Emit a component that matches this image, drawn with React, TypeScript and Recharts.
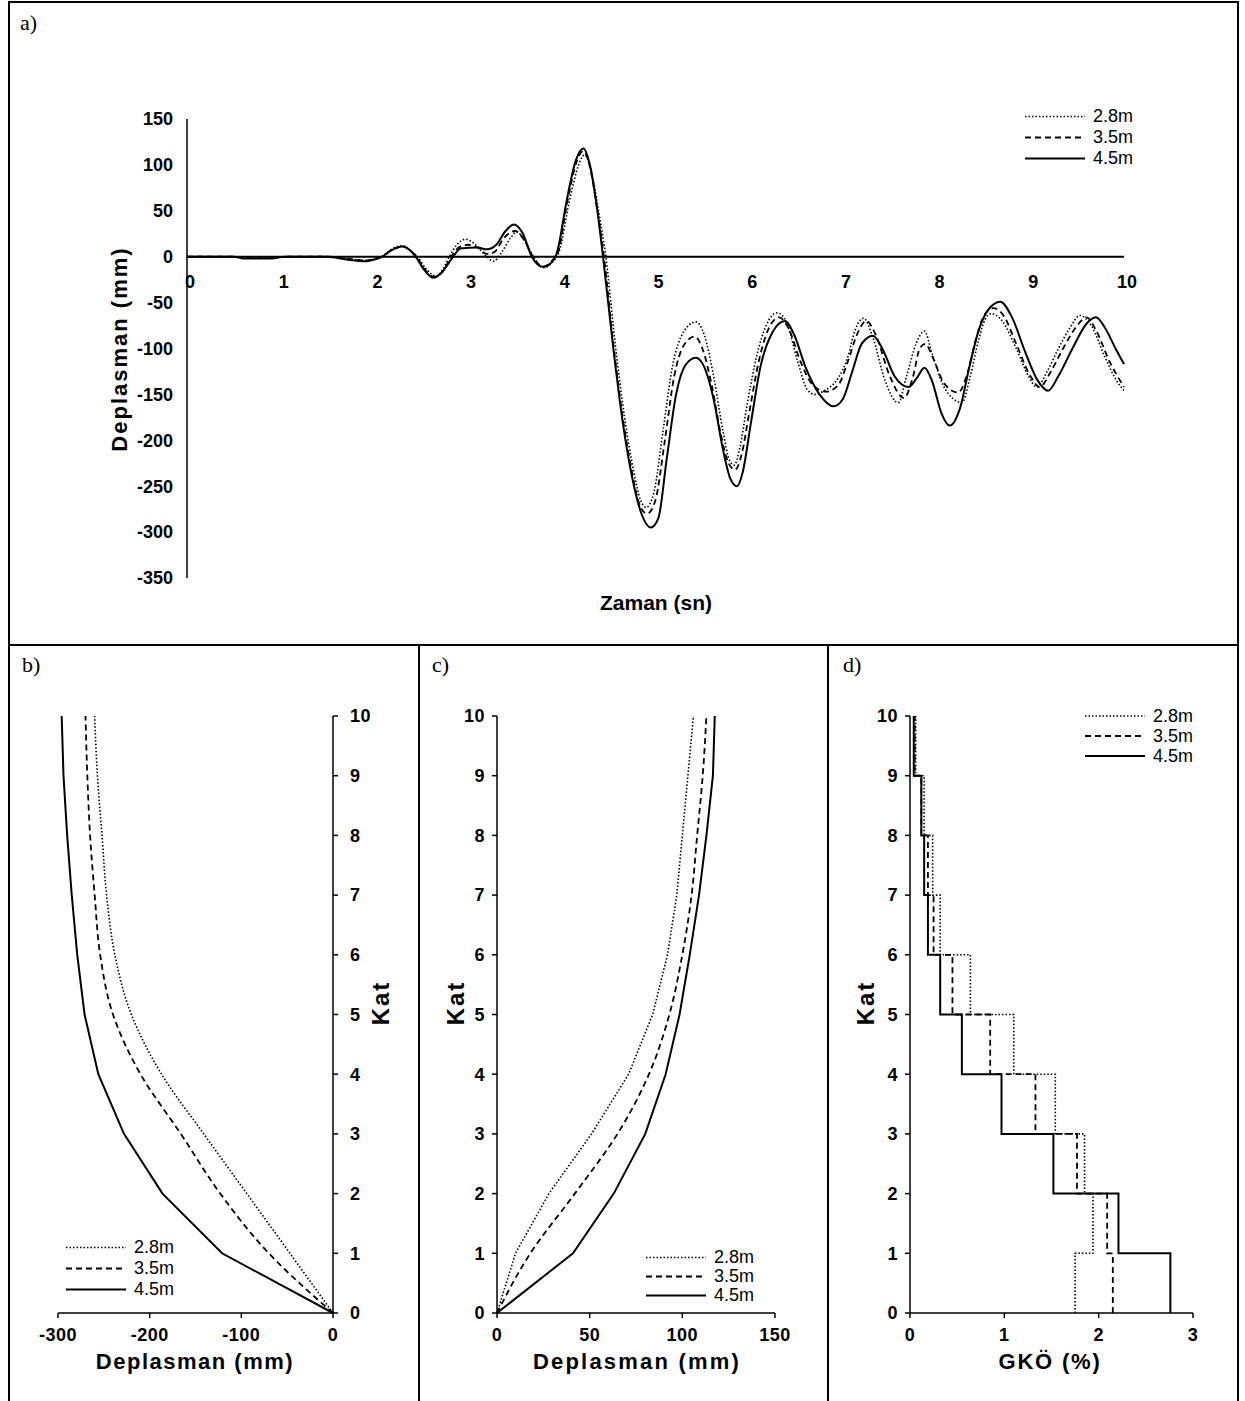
import { LineChart, Line, XAxis, YAxis, ReferenceLine, ReferenceDot } from 'recharts';

const FONT = '"Liberation Sans", Arial, Helvetica, sans-serif';
const SERIF = '"Liberation Serif", "Times New Roman", serif';

const NAMES = ['2.8m', '3.5m', '4.5m'];
const DASH = ['1.5 2', '6 4', ''];
const WIDTH = [1.6, 1.8, 2];

// a) zaman - deplasman, [t (sn), deplasman (mm)]
const A_28: [number, number][] = [
  [0, 0], [0.6, 0], [1.5, 0], [1.7, -2], [1.9, -4], [2.0, -3], [2.08, 0], [2.18, 8], [2.3, 12],
  [2.38, 7], [2.46, 0], [2.55, -13], [2.66, -21], [2.74, -12], [2.8, 0], [2.88, 13], [2.97, 19],
  [3.07, 14], [3.18, 2], [3.27, -5], [3.36, 5], [3.45, 20], [3.52, 27], [3.6, 18], [3.7, 0],
  [3.8, -12], [3.9, -6], [3.97, 5], [4.08, 60], [4.18, 100], [4.24, 111], [4.31, 95], [4.4, 45],
  [4.47, 0], [4.57, -95], [4.67, -175], [4.77, -235], [4.84, -265], [4.9, -273], [4.98, -258],
  [5.08, -190], [5.18, -120], [5.3, -82], [5.43, -71], [5.52, -85], [5.62, -130], [5.72, -190],
  [5.79, -222], [5.84, -227], [5.9, -208], [5.98, -160], [6.08, -108], [6.18, -75], [6.3, -61],
  [6.4, -72], [6.52, -115], [6.62, -145], [6.7, -150], [6.8, -146], [6.95, -132], [7.05, -110],
  [7.13, -80], [7.22, -67], [7.32, -88], [7.45, -135], [7.59, -159], [7.68, -130], [7.78, -95],
  [7.87, -81], [7.95, -105], [8.07, -140], [8.18, -155], [8.27, -159], [8.36, -130], [8.45, -90],
  [8.52, -68], [8.58, -62], [8.7, -70], [8.85, -100], [8.98, -130], [9.07, -142], [9.18, -125],
  [9.3, -100], [9.42, -78], [9.53, -64], [9.65, -75], [9.8, -110], [9.92, -135], [10, -146],
];

const A_35: [number, number][] = [
  [0, 0], [0.5, 0], [0.6, -1], [0.9, -1], [1.05, 0], [1.5, 0], [1.7, -2], [1.9, -4], [2.0, -3],
  [2.08, 0], [2.18, 7], [2.3, 11], [2.38, 7], [2.45, 0], [2.53, -13], [2.64, -22], [2.73, -16],
  [2.82, 0], [2.9, 10], [3.0, 13], [3.1, 10], [3.2, 3], [3.28, 5], [3.38, 20], [3.5, 28], [3.6, 18],
  [3.69, 0], [3.8, -11], [3.9, -4], [3.96, 5], [4.06, 60], [4.16, 104], [4.23, 115], [4.3, 98],
  [4.38, 50], [4.45, 0], [4.55, -95], [4.65, -175], [4.75, -235], [4.83, -270], [4.91, -280],
  [5.0, -265], [5.1, -200], [5.2, -130], [5.3, -97], [5.42, -87], [5.5, -100], [5.6, -140],
  [5.7, -195], [5.78, -225], [5.85, -232], [5.92, -215], [6.0, -170], [6.1, -115], [6.2, -80],
  [6.32, -66], [6.42, -78], [6.55, -115], [6.68, -140], [6.82, -147], [6.95, -140], [7.05, -115],
  [7.15, -85], [7.25, -70], [7.35, -85], [7.5, -130], [7.65, -154], [7.75, -130], [7.82, -100],
  [7.88, -95], [7.96, -110], [8.08, -138], [8.23, -148], [8.32, -130], [8.42, -90], [8.52, -62],
  [8.61, -56], [8.72, -65], [8.85, -95], [9.0, -130], [9.1, -142], [9.22, -125], [9.35, -100],
  [9.5, -75], [9.6, -66], [9.7, -80], [9.85, -115], [10, -142],
];

const A_45: [number, number][] = [
  [0, 0], [0.5, 0], [0.6, -2], [0.9, -2], [1.05, 0], [1.5, 0], [1.7, -3], [1.9, -5], [2.0, -3],
  [2.08, 0], [2.18, 7], [2.3, 11], [2.38, 7], [2.44, 0], [2.53, -14], [2.63, -23], [2.72, -17],
  [2.84, 0], [2.92, 9], [3.1, 10], [3.2, 8], [3.3, 13], [3.4, 28], [3.49, 35], [3.58, 26],
  [3.68, 0], [3.8, -11], [3.9, -5], [3.95, 5], [4.05, 60], [4.15, 105], [4.23, 118], [4.3, 100],
  [4.38, 50], [4.44, 0], [4.55, -100], [4.65, -180], [4.75, -240], [4.85, -280], [4.95, -295],
  [5.03, -285], [5.12, -220], [5.22, -150], [5.32, -118], [5.43, -110], [5.52, -120], [5.62, -155],
  [5.72, -210], [5.8, -242], [5.87, -250], [5.93, -235], [6.02, -180], [6.12, -120], [6.25, -82],
  [6.38, -70], [6.48, -85], [6.6, -120], [6.75, -150], [6.9, -163], [7.0, -155], [7.1, -125],
  [7.2, -95], [7.32, -86], [7.42, -100], [7.55, -130], [7.7, -142], [7.79, -132], [7.87, -121],
  [7.95, -135], [8.05, -170], [8.14, -184], [8.25, -165], [8.35, -120], [8.45, -80], [8.55, -58],
  [8.68, -49], [8.8, -65], [8.95, -105], [9.08, -135], [9.19, -146], [9.3, -130], [9.45, -100],
  [9.6, -73], [9.7, -66], [9.8, -78], [9.9, -98], [10, -117],
];

const A_X_TICKS = [0, 1, 2, 3, 4, 5, 6, 7, 8, 9, 10];
const A_Y_TICKS = [150, 100, 50, 0, -50, -100, -150, -200, -250, -300, -350];

// b), c) kat deplasmanlari (mm)
const KAT = [0, 1, 2, 3, 4, 5, 6, 7, 8, 9, 10];
const B_28 = [0, -47, -94, -141, -187, -220, -238, -247, -252, -257, -260];
const B_35 = [0, -70, -123, -166, -210, -240, -254, -260, -265, -268, -270];
const B_45 = [0, -121, -186, -228, -256, -271, -279, -285, -290, -294, -296];
const B_X_TICKS = [-300, -200, -100, 0];

const C_28 = [0, 10, 28, 51, 71, 84, 92, 97, 100, 103, 106];
const C_35 = [0, 18, 42, 65, 82, 93, 100, 105, 108, 111, 113];
const C_45 = [0, 41, 63, 80, 91, 98.5, 104, 109, 113, 116.5, 117.5];
const C_X_TICKS = [0, 50, 100, 150];

// d) GKÖ (%) per storey 1..10
const D_28 = [1.75, 1.94, 1.85, 1.54, 1.1, 0.64, 0.32, 0.24, 0.15, 0.06];
const D_35 = [2.15, 2.09, 1.77, 1.33, 0.85, 0.45, 0.25, 0.19, 0.12, 0.05];
const D_45 = [2.76, 2.21, 1.52, 0.97, 0.55, 0.32, 0.19, 0.15, 0.12, 0.04];
const D_X_TICKS = [0, 1, 2, 3];

const tickA = { fill: '#000', fontSize: 18, fontWeight: 700, fontFamily: FONT };
const tickB = { fill: '#000', fontSize: 18, fontWeight: 700, fontFamily: FONT, letterSpacing: 0.5 };
const axisLine = { stroke: '#000', strokeWidth: 1.5 };
const tickLine = { stroke: '#000', strokeWidth: 1.5 };

const toPts = (arr: [number, number][]) => arr.map(([t, v]) => ({ t, v }));

const profile = (s28: number[], s35: number[], s45: number[]) =>
  KAT.map((k, i) => ({ kat: k, s28: s28[i], s35: s35[i], s45: s45[i] }));

// step data: row k holds the drift of storey k+1, top row repeats the last storey
const drift = (s28: number[], s35: number[], s45: number[]) =>
  KAT.map((k) => {
    const i = Math.min(k, 9);
    return { kat: k, s28: s28[i], s35: s35[i], s45: s45[i] };
  });

function LegendBox({ left, top, rowH = 21, lineW = 60, gap = 8 }: any) {
  return (
    <div style={{ position: 'absolute', left, top, fontFamily: FONT, fontSize: 18, lineHeight: `${rowH}px` }}>
      {NAMES.map((n, i) => (
        <div key={n} style={{ display: 'flex', alignItems: 'center', height: rowH }}>
          <svg width={lineW} height={rowH}>
            <line x1={0} x2={lineW} y1={rowH / 2} y2={rowH / 2} stroke="#000" strokeWidth={WIDTH[i]} strokeDasharray={DASH[i] || undefined} />
          </svg>
          <span style={{ marginLeft: gap }}>{n}</span>
        </div>
      ))}
    </div>
  );
}

function Title({ x, y, text, rotate = false, size = 22, spacing = 0 }: any) {
  return (
    <div
      style={{
        position: 'absolute',
        left: x,
        top: y,
        transform: `translate(-50%, -50%)${rotate ? ' rotate(-90deg)' : ''}`,
        fontFamily: FONT,
        fontWeight: 700,
        fontSize: size,
        letterSpacing: spacing,
        whiteSpace: 'nowrap',
      }}
    >
      {text}
    </div>
  );
}

function Letter({ x, y, text }: any) {
  return (
    <div style={{ position: 'absolute', left: x, top: y, fontFamily: SERIF, fontSize: 22 }}>{text}</div>
  );
}

// one curve type per series
function lines(types: string[]) {
  const keys = ['s28', 's35', 's45'];
  return keys.map((k, i) => (
    <Line
      key={k}
      dataKey={k}
      type={types[i] as any}
      stroke="#000"
      strokeWidth={WIDTH[i]}
      strokeDasharray={DASH[i] || undefined}
      dot={false}
      isAnimationActive={false}
    />
  ));
}

export default function App() {
  const series = [A_28, A_35, A_45];
  return (
    <div style={{ position: 'absolute', left: 0, top: 0, width: 1245, height: 1401, background: '#fff' }}>
      {/* frame */}
      <div style={{ position: 'absolute', left: 8, top: 1, width: 1231, height: 645, border: '2px solid #000', boxSizing: 'border-box' }} />
      {[8, 418, 827, 1237].map((x) => (
        <div key={x} style={{ position: 'absolute', left: x, top: 645, width: 2, height: 756, background: '#000' }} />
      ))}

      {/* a) */}
      <div style={{ position: 'absolute', left: 0, top: 0 }}>
        <LineChart width={1245} height={645} margin={{ top: 119, right: 121, bottom: 67, left: 127 }}>
          <XAxis type="number" dataKey="t" domain={[0, 10]} ticks={A_X_TICKS} hide allowDuplicatedCategory={false} />
          <YAxis
            type="number"
            domain={[-350, 150]}
            ticks={A_Y_TICKS}
            interval={0}
            width={60}
            axisLine={axisLine}
            tickLine={false}
            tickSize={6}
            tickMargin={8}
            tick={tickA}
          />
          <ReferenceLine y={0} stroke="#000" strokeWidth={2} />
          {A_X_TICKS.map((k) => (
            <ReferenceDot
              key={k}
              x={k}
              y={0}
              r={1}
              fill="none"
              stroke="none"
              label={{ value: String(k), position: 'bottom', offset: 18, ...tickA, dx: 3 }}
            />
          ))}
          {series.map((s, i) => (
            <Line
              key={NAMES[i]}
              data={toPts(s)}
              dataKey="v"
              type="monotone"
              stroke="#000"
              strokeWidth={WIDTH[i]}
              strokeDasharray={DASH[i] || undefined}
              dot={false}
              isAnimationActive={false}
            />
          ))}
        </LineChart>
      </div>
      <Letter x={20} y={10} text="a)" />
      <LegendBox left={1025} top={106} />
      <Title x={120} y={349} text="Deplasman (mm)" rotate size={22} spacing={2} />
      <Title x={656} y={603} text="Zaman (sn)" size={21} />

      {/* b) */}
      <div style={{ position: 'absolute', left: 8, top: 645 }}>
        <LineChart layout="vertical" width={410} height={756} data={profile(B_28, B_35, B_45)} margin={{ top: 71, right: 40, bottom: 58, left: 50 }}>
          <XAxis type="number" domain={[-300, 0]} ticks={B_X_TICKS} interval={0} axisLine={axisLine} tickLine={tickLine} tickSize={5} tickMargin={10} tick={tickB} />
          <YAxis type="number" dataKey="kat" orientation="right" reversed domain={[0, 10]} ticks={KAT} interval={0} width={45} axisLine={axisLine} tickLine={tickLine} tickSize={5} tickMargin={12} tick={{ ...tickB, textAnchor: 'start' }} />
          {lines(['monotone', 'monotone', 'linear'])}
        </LineChart>
      </div>
      <Letter x={22} y={652} text="b)" />
      <LegendBox left={66} top={1237} />
      <Title x={195} y={1362} text="Deplasman (mm)" spacing={1.5} />
      <Title x={381} y={1003} text="Kat" rotate size={24} spacing={2} />

      {/* c) */}
      <div style={{ position: 'absolute', left: 418, top: 645 }}>
        <LineChart layout="vertical" width={409} height={756} data={profile(C_28, C_35, C_45)} margin={{ top: 71, right: 52, bottom: 58, left: 34 }}>
          <XAxis type="number" domain={[0, 150]} ticks={C_X_TICKS} interval={0} axisLine={axisLine} tickLine={tickLine} tickSize={5} tickMargin={10} tick={tickB} />
          <YAxis type="number" dataKey="kat" reversed domain={[0, 10]} ticks={KAT} interval={0} width={45} axisLine={axisLine} tickLine={tickLine} tickSize={5} tickMargin={7} tick={tickB} />
          {lines(['linear', 'monotone', 'linear'])}
        </LineChart>
      </div>
      <Letter x={432} y={652} text="c)" />
      <LegendBox left={646} top={1248} rowH={19} />
      <Title x={637} y={1362} text="Deplasman (mm)" spacing={2.2} />
      <Title x={456} y={1003} text="Kat" rotate size={24} spacing={2} />

      {/* d) */}
      <div style={{ position: 'absolute', left: 827, top: 645 }}>
        <LineChart layout="vertical" width={411} height={756} data={drift(D_28, D_35, D_45)} margin={{ top: 71, right: 45, bottom: 58, left: 38 }}>
          <XAxis type="number" domain={[0, 3]} ticks={D_X_TICKS} interval={0} axisLine={axisLine} tickLine={tickLine} tickSize={5} tickMargin={10} tick={tickB} />
          <YAxis type="number" dataKey="kat" reversed domain={[0, 10]} ticks={KAT} interval={0} width={45} axisLine={axisLine} tickLine={tickLine} tickSize={5} tickMargin={7} tick={tickB} />
          {lines(['stepBefore', 'stepBefore', 'stepBefore'])}
        </LineChart>
      </div>
      <Letter x={843} y={652} text="d)" />
      <LegendBox left={1085} top={706} rowH={20} />
      <Title x={1050} y={1362} text="GKÖ (%)" spacing={1.8} />
      <Title x={866} y={1003} text="Kat" rotate size={24} spacing={2} />
    </div>
  );
}
